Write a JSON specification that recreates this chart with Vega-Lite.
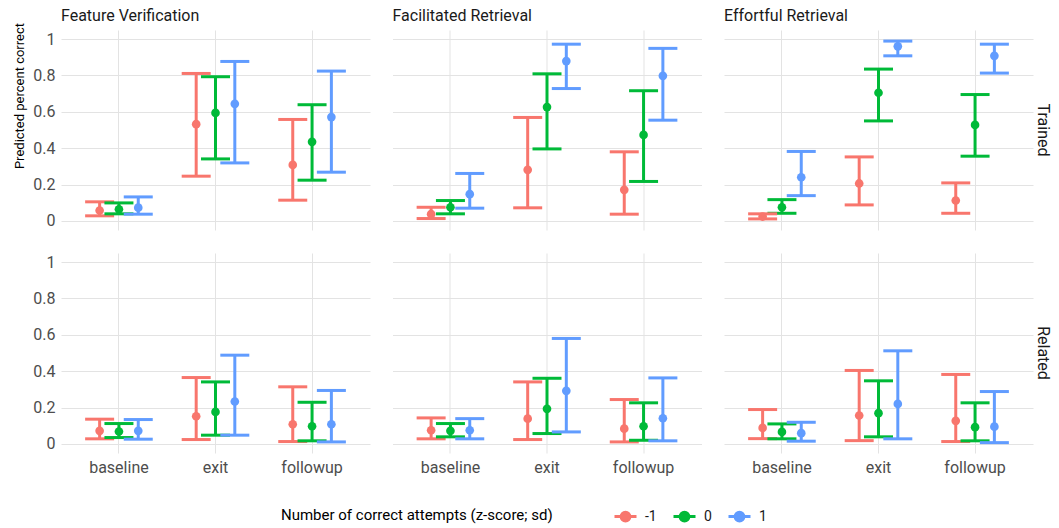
{
  "$schema": "https://vega.github.io/schema/vega-lite/v6.json",
  "padding": {"left": 13, "top": 8, "right": 2, "bottom": 5},
  "background": "white",
  "title": {"text": "Predicted percent correct", "orient": "left", "anchor": "end", "fontSize": 13, "fontWeight": "normal", "color": "#000000", "font": "Roboto", "offset": 6, "dx": -15},
  "data": {"values": [
    {"task":"Feature Verification","type":"Trained","time":"baseline","z":"-1","fit":0.057,"lo":0.028,"hi":0.105},
    {"task":"Feature Verification","type":"Trained","time":"baseline","z":"0","fit":0.064,"lo":0.039,"hi":0.099},
    {"task":"Feature Verification","type":"Trained","time":"baseline","z":"1","fit":0.073,"lo":0.037,"hi":0.132},
    {"task":"Feature Verification","type":"Trained","time":"exit","z":"-1","fit":0.532,"lo":0.246,"hi":0.811},
    {"task":"Feature Verification","type":"Trained","time":"exit","z":"0","fit":0.594,"lo":0.341,"hi":0.793},
    {"task":"Feature Verification","type":"Trained","time":"exit","z":"1","fit":0.644,"lo":0.319,"hi":0.877},
    {"task":"Feature Verification","type":"Trained","time":"followup","z":"-1","fit":0.308,"lo":0.114,"hi":0.558},
    {"task":"Feature Verification","type":"Trained","time":"followup","z":"0","fit":0.435,"lo":0.224,"hi":0.639},
    {"task":"Feature Verification","type":"Trained","time":"followup","z":"1","fit":0.571,"lo":0.268,"hi":0.824},
    {"task":"Facilitated Retrieval","type":"Trained","time":"baseline","z":"-1","fit":0.037,"lo":0.013,"hi":0.075},
    {"task":"Facilitated Retrieval","type":"Trained","time":"baseline","z":"0","fit":0.075,"lo":0.039,"hi":0.112},
    {"task":"Facilitated Retrieval","type":"Trained","time":"baseline","z":"1","fit":0.147,"lo":0.070,"hi":0.261},
    {"task":"Facilitated Retrieval","type":"Trained","time":"exit","z":"-1","fit":0.281,"lo":0.072,"hi":0.569},
    {"task":"Facilitated Retrieval","type":"Trained","time":"exit","z":"0","fit":0.626,"lo":0.396,"hi":0.809},
    {"task":"Facilitated Retrieval","type":"Trained","time":"exit","z":"1","fit":0.879,"lo":0.728,"hi":0.972},
    {"task":"Facilitated Retrieval","type":"Trained","time":"followup","z":"-1","fit":0.171,"lo":0.037,"hi":0.380},
    {"task":"Facilitated Retrieval","type":"Trained","time":"followup","z":"0","fit":0.473,"lo":0.217,"hi":0.716},
    {"task":"Facilitated Retrieval","type":"Trained","time":"followup","z":"1","fit":0.798,"lo":0.554,"hi":0.949},
    {"task":"Effortful Retrieval","type":"Trained","time":"baseline","z":"-1","fit":0.024,"lo":0.011,"hi":0.039},
    {"task":"Effortful Retrieval","type":"Trained","time":"baseline","z":"0","fit":0.075,"lo":0.042,"hi":0.117},
    {"task":"Effortful Retrieval","type":"Trained","time":"baseline","z":"1","fit":0.240,"lo":0.139,"hi":0.382},
    {"task":"Effortful Retrieval","type":"Trained","time":"exit","z":"-1","fit":0.206,"lo":0.088,"hi":0.352},
    {"task":"Effortful Retrieval","type":"Trained","time":"exit","z":"0","fit":0.705,"lo":0.550,"hi":0.835},
    {"task":"Effortful Retrieval","type":"Trained","time":"exit","z":"1","fit":0.960,"lo":0.908,"hi":0.989},
    {"task":"Effortful Retrieval","type":"Trained","time":"followup","z":"-1","fit":0.112,"lo":0.042,"hi":0.209},
    {"task":"Effortful Retrieval","type":"Trained","time":"followup","z":"0","fit":0.528,"lo":0.356,"hi":0.695},
    {"task":"Effortful Retrieval","type":"Trained","time":"followup","z":"1","fit":0.908,"lo":0.813,"hi":0.972},
    {"task":"Feature Verification","type":"Related","time":"baseline","z":"-1","fit":0.072,"lo":0.028,"hi":0.136},
    {"task":"Feature Verification","type":"Related","time":"baseline","z":"0","fit":0.068,"lo":0.035,"hi":0.112},
    {"task":"Feature Verification","type":"Related","time":"baseline","z":"1","fit":0.072,"lo":0.026,"hi":0.134},
    {"task":"Feature Verification","type":"Related","time":"exit","z":"-1","fit":0.152,"lo":0.024,"hi":0.365},
    {"task":"Feature Verification","type":"Related","time":"exit","z":"0","fit":0.176,"lo":0.048,"hi":0.341},
    {"task":"Feature Verification","type":"Related","time":"exit","z":"1","fit":0.233,"lo":0.048,"hi":0.488},
    {"task":"Feature Verification","type":"Related","time":"followup","z":"-1","fit":0.108,"lo":0.013,"hi":0.314},
    {"task":"Feature Verification","type":"Related","time":"followup","z":"0","fit":0.097,"lo":0.017,"hi":0.229},
    {"task":"Feature Verification","type":"Related","time":"followup","z":"1","fit":0.108,"lo":0.011,"hi":0.294},
    {"task":"Facilitated Retrieval","type":"Related","time":"baseline","z":"-1","fit":0.075,"lo":0.028,"hi":0.143},
    {"task":"Facilitated Retrieval","type":"Related","time":"baseline","z":"0","fit":0.072,"lo":0.039,"hi":0.112},
    {"task":"Facilitated Retrieval","type":"Related","time":"baseline","z":"1","fit":0.075,"lo":0.028,"hi":0.139},
    {"task":"Facilitated Retrieval","type":"Related","time":"exit","z":"-1","fit":0.139,"lo":0.024,"hi":0.341},
    {"task":"Facilitated Retrieval","type":"Related","time":"exit","z":"0","fit":0.193,"lo":0.057,"hi":0.361},
    {"task":"Facilitated Retrieval","type":"Related","time":"exit","z":"1","fit":0.292,"lo":0.066,"hi":0.580},
    {"task":"Facilitated Retrieval","type":"Related","time":"followup","z":"-1","fit":0.084,"lo":0.011,"hi":0.244},
    {"task":"Facilitated Retrieval","type":"Related","time":"followup","z":"0","fit":0.097,"lo":0.020,"hi":0.226},
    {"task":"Facilitated Retrieval","type":"Related","time":"followup","z":"1","fit":0.141,"lo":0.017,"hi":0.363},
    {"task":"Effortful Retrieval","type":"Related","time":"baseline","z":"-1","fit":0.088,"lo":0.029,"hi":0.189},
    {"task":"Effortful Retrieval","type":"Related","time":"baseline","z":"0","fit":0.066,"lo":0.028,"hi":0.110},
    {"task":"Effortful Retrieval","type":"Related","time":"baseline","z":"1","fit":0.059,"lo":0.015,"hi":0.119},
    {"task":"Effortful Retrieval","type":"Related","time":"exit","z":"-1","fit":0.156,"lo":0.018,"hi":0.404},
    {"task":"Effortful Retrieval","type":"Related","time":"exit","z":"0","fit":0.169,"lo":0.039,"hi":0.347},
    {"task":"Effortful Retrieval","type":"Related","time":"exit","z":"1","fit":0.220,"lo":0.028,"hi":0.512},
    {"task":"Effortful Retrieval","type":"Related","time":"followup","z":"-1","fit":0.127,"lo":0.013,"hi":0.382},
    {"task":"Effortful Retrieval","type":"Related","time":"followup","z":"0","fit":0.092,"lo":0.017,"hi":0.226},
    {"task":"Effortful Retrieval","type":"Related","time":"followup","z":"1","fit":0.095,"lo":0.007,"hi":0.288}
  ]},
  "facet": {
    "column": {"field": "task", "type": "nominal", "sort": ["Feature Verification","Facilitated Retrieval","Effortful Retrieval"],
      "header": {"title": null, "labelAnchor": "start", "labelFontSize": 16, "labelColor": "#1a1a1a", "labelPadding": 6, "labelFont": "Roboto"}},
    "row": {"field": "type", "type": "nominal", "sort": ["Trained","Related"],
      "header": {"title": null, "labelOrient": "right", "labelAngle": 90, "labelFontSize": 16, "labelColor": "#1a1a1a", "labelPadding": 2, "labelFont": "Roboto"}}
  },
  "spacing": {"row": 23, "column": 22.5},
  "spec": {
    "width": 309,
    "height": 200,
    "encoding": {
      "x": {"field": "time", "type": "nominal", "sort": ["baseline","exit","followup"],
        "scale": {"type": "band", "paddingInner": 0, "paddingOuter": 0.1},
        "axis": {"title": null, "bandPosition": 0.5, "ticks": false, "domain": false, "grid": true, "labelAngle": 0, "labelFontSize": 16, "labelColor": "#4d4d4d", "labelPadding": 6, "labelFont": "Roboto"}},
      "xOffset": {"field": "z", "type": "nominal", "scale": {"domain": ["-1","0","1"], "paddingInner": 0, "paddingOuter": 1.5}},
      "color": {"field": "z", "type": "nominal",
        "scale": {"domain": ["-1","0","1"], "range": ["#F8766D","#00BA38","#619CFF"]},
        "legend": {"title": "Number of correct attempts (z-score; sd)", "orient": "none", "legendX": 220, "legendY": 474, "direction": "horizontal", "titleOrient": "left",
          "titleFontSize": 15, "titleFontWeight": "normal", "titleColor": "#000000", "titleFont": "Roboto", "titlePadding": 60, "titleLimit": 500,
          "labelFontSize": 14, "labelColor": "#1a1a1a", "labelFont": "Roboto", "labelOffset": 7, "columnPadding": 10,
          "symbolType": "M-1,0H1M-0.4,0A0.4,0.4 0 1,1 0.4,0A0.4,0.4 0 1,1 -0.4,0Z", "symbolSize": 484, "symbolStrokeWidth": 3}}
    },
    "layer": [
      {"mark": {"type": "rule", "strokeWidth": 3},
       "encoding": {"y": {"field": "lo", "type": "quantitative",
          "scale": {"domain": [-0.05, 1.05], "nice": false, "zero": false},
          "axis": {"title": null, "values": [0,0.2,0.4,0.6,0.8,1], "format": "~g", "ticks": false, "domain": false, "labelOverlap": false,
            "labelFontSize": 16, "labelColor": "#4d4d4d", "labelPadding": 6, "labelFont": "Roboto"}},
         "y2": {"field": "hi"}}},
      {"mark": {"type": "tick", "orient": "horizontal", "size": 29, "thickness": 3, "opacity": 1},
       "encoding": {"y": {"field": "lo", "type": "quantitative",
          "axis": {"title": null, "values": [0,0.2,0.4,0.6,0.8,1], "format": "~g", "ticks": false, "domain": false, "labelOverlap": false,
            "labelFontSize": 16, "labelColor": "#4d4d4d", "labelPadding": 6, "labelFont": "Roboto"}}}},
      {"mark": {"type": "tick", "orient": "horizontal", "size": 29, "thickness": 3, "opacity": 1},
       "encoding": {"y": {"field": "hi", "type": "quantitative",
          "axis": {"title": null, "values": [0,0.2,0.4,0.6,0.8,1], "format": "~g", "ticks": false, "domain": false, "labelOverlap": false,
            "labelFontSize": 16, "labelColor": "#4d4d4d", "labelPadding": 6, "labelFont": "Roboto"}}}},
      {"mark": {"type": "point", "filled": true, "size": 75, "opacity": 1},
       "encoding": {"y": {"field": "fit", "type": "quantitative",
          "axis": {"title": null, "values": [0,0.2,0.4,0.6,0.8,1], "format": "~g", "ticks": false, "domain": false, "labelOverlap": false,
            "labelFontSize": 16, "labelColor": "#4d4d4d", "labelPadding": 6, "labelFont": "Roboto"}}}}
    ]
  },
  "config": {
    "view": {"stroke": null},
    "axis": {"gridColor": "#e3e3e3", "gridWidth": 1},
    "font": "Roboto"
  }
}
